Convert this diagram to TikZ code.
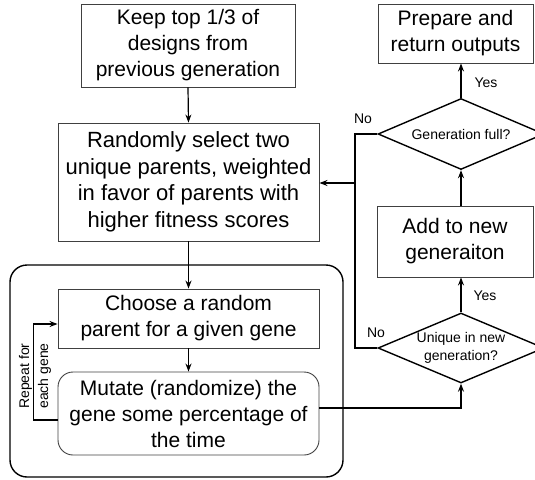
\documentclass[tikz,border=0pt]{standalone}
\usepackage{fontspec}
\setmainfont{Liberation Sans}
\usetikzlibrary{shapes.geometric,arrows.meta,calc}

\begin{document}
\begin{tikzpicture}[x=1pt,y=-1pt,
  bigtext/.style={font=\fontsize{21}{26}\selectfont, align=center},
  smalltext/.style={font=\fontsize{14}{18}\selectfont, align=center},
  stepbox/.style={draw=black!75, line width=0.9pt, rectangle, inner sep=0pt, bigtext},
  roundbox/.style={stepbox, rounded corners=15pt},
  decision/.style={draw=black, line width=1.4pt, diamond, inner sep=0pt},
  flow/.style={line width=1.2pt, -{Stealth[length=8pt,width=6pt]}},
  plain/.style={line width=1.2pt},
  note/.style={smalltext, inner sep=0pt}
]
\clip (0,0) rectangle (535,479);

% outer frame around the per-gene loop
\draw[line width=1.4pt, rounded corners=17pt] (10,265) rectangle (343,477);

% left column
\node[stepbox, minimum width=214pt, minimum height=83pt] (keep) at (188,45.5)
  {Keep top 1/3 of\\designs from\\previous generation};
\node[stepbox, minimum width=261pt, minimum height=118pt,
      font=\fontsize{22}{26.5}\selectfont] (rand) at (188.5,182)
  {Randomly select two\\unique parents, weighted\\in favor of parents with\\higher fitness scores};
\node[stepbox, minimum width=261pt, minimum height=59pt] (choose) at (188.5,318.5)
  {Choose a random\\parent for a given gene};
\node[roundbox, minimum width=261pt, minimum height=83pt] (mutate) at (188.5,413.5)
  {Mutate (randomize) the\\gene some percentage of\\the time};

% right column
\node[stepbox, minimum width=155pt, minimum height=59pt] (prepare) at (455.5,33.5)
  {Prepare and\\return outputs};
\node[decision, minimum width=166pt, minimum height=71pt] (full) at (461,134) {};
\node[note] (fulltext) at (full) {Generation full?};
\node[stepbox, minimum width=156pt, minimum height=71pt] (add) at (455,241.5)
  {Add to new\\generaiton};
\node[decision, minimum width=166pt, minimum height=70pt] (unique) at (461,348) {};
\node[note] (uniquetext) at (unique) {Unique in new\\generation?};

% loop label, its two lines sit either side of the loop line
\node[note, rotate=90, font=\fontsize{14}{19}\selectfont] (repeat) at (35,376)
  {Repeat for\\each gene};

% connectors
\draw[flow] (keep.south) -- (rand.north);
\draw[flow] (rand.south) -- (choose.north);
\draw[flow] (choose.south) -- (mutate.north);
\draw[flow] ([yshift=-6.5pt]mutate.west) -- ++(-24,0) |- ([yshift=-5.5pt]choose.west);
\draw[flow] ([yshift=5.5pt]mutate.east) -| (unique.south);
\draw[flow] (unique.north) -- (unique.north |- add.south);
\draw[flow] (full.south |- add.north) -- (full.south);
\draw[flow] (full.north) -- (full.north |- prepare.south);

\coordinate (bus) at (355,183);
\draw[plain] (unique.west) -| (bus) |- (full.west);
\draw[flow] (bus) -- (rand.east |- bus);

% branch labels
\node[note] (no1) at (363,118.5) {No};
\node[note] (no2) at (376,333) {No};
\node[note] (yes1) at (486,83) {Yes};
\node[note] (yes2) at (485,296) {Yes};
\end{tikzpicture}
\end{document}
